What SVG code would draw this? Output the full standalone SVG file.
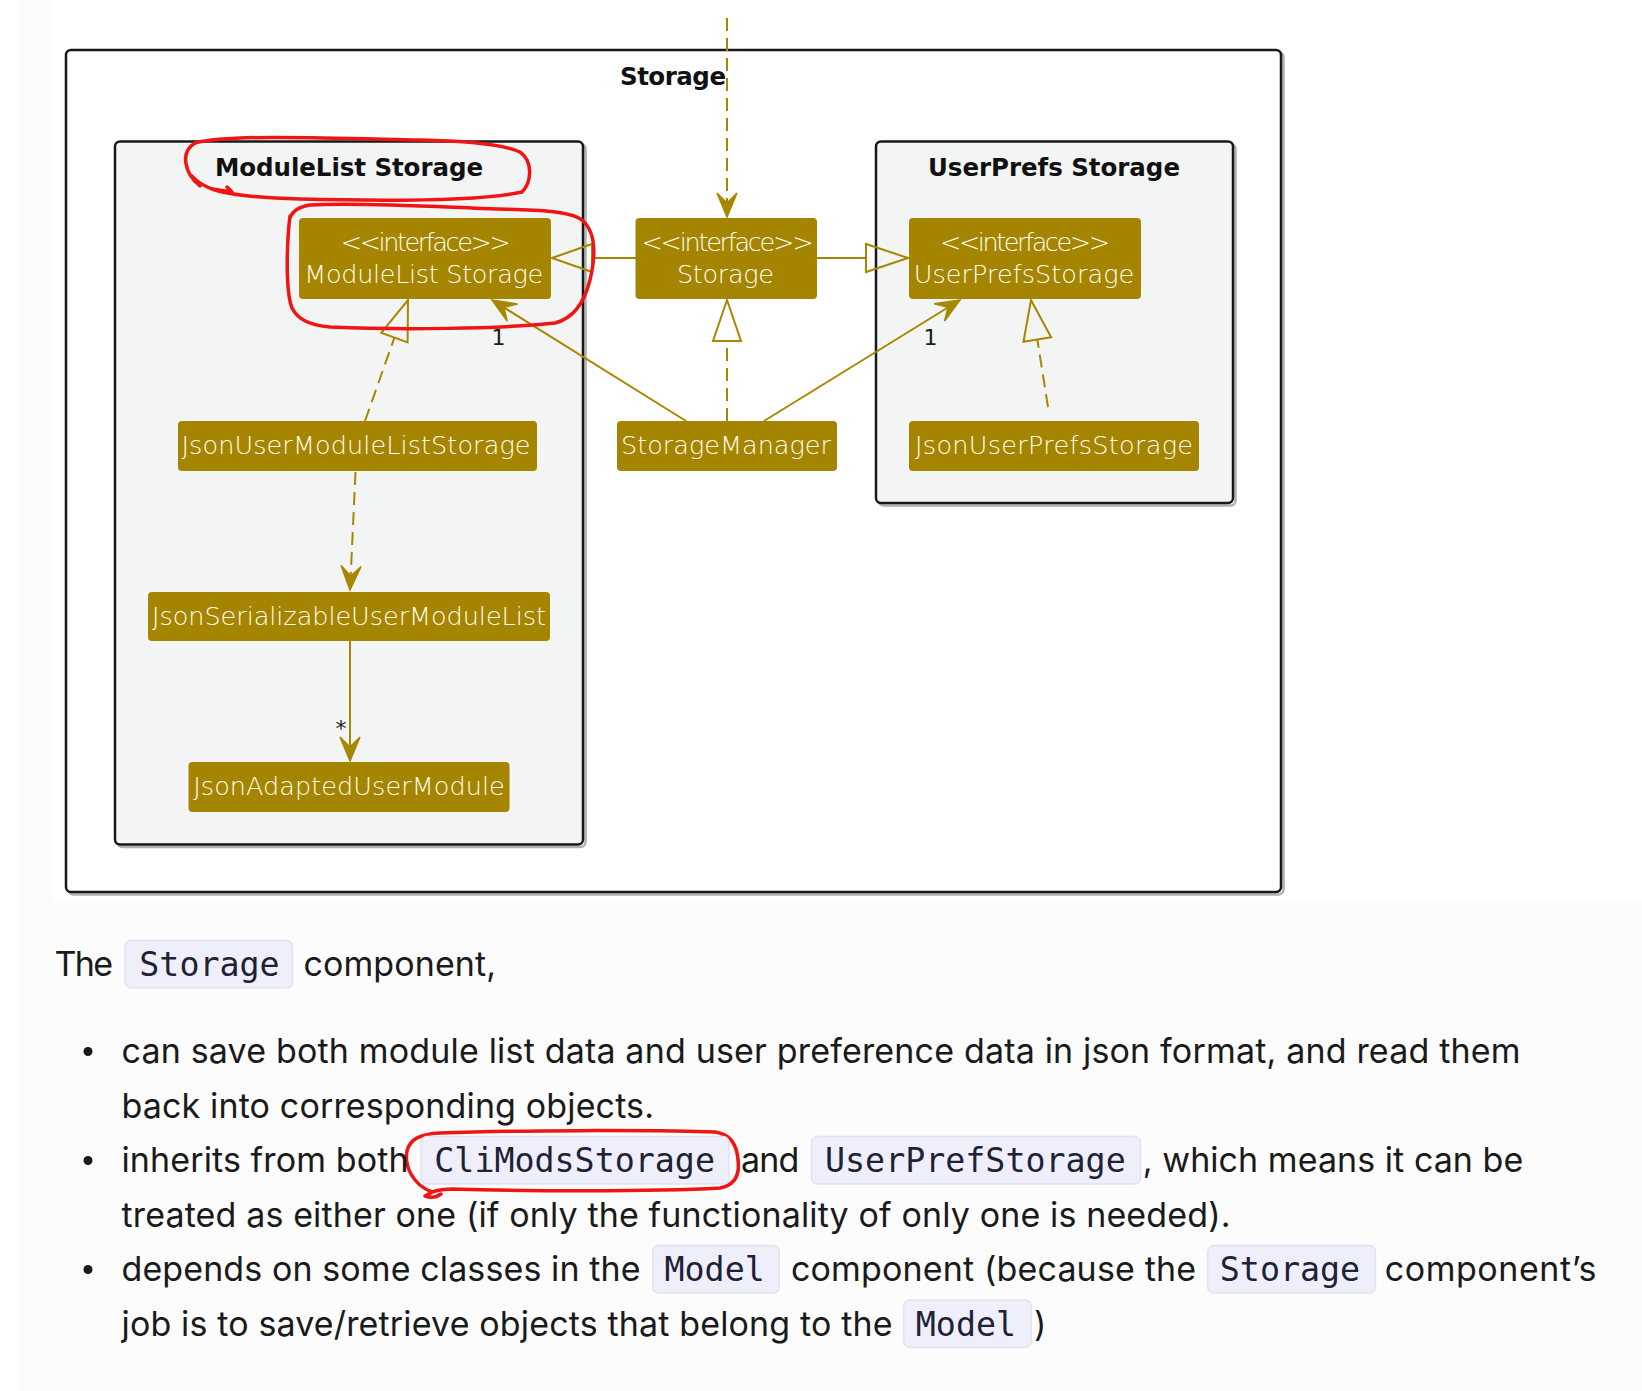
<svg xmlns="http://www.w3.org/2000/svg" width="1642" height="1391" viewBox="0 0 1642 1391">
<style>
.pkg{fill:#f3f5f4;stroke:#181818;stroke-width:2.5}
.pkgsh{fill:none;stroke:#b0b0b0;stroke-width:2.5}
.node{fill:#a58400}
.nt{font-family:"DejaVu Sans",sans-serif;font-weight:200;font-size:25.5px;fill:#fffdf0;text-anchor:middle}
.ptitle{font-family:"DejaVu Sans",sans-serif;font-weight:bold;font-size:24.5px;fill:#111;text-anchor:middle}
.ln{fill:none;stroke:#a88700;stroke-width:2}
.dash{stroke-dasharray:13 7}
.head{fill:#a88700;stroke:#a88700;stroke-width:1.5;stroke-linejoin:miter}
.tri{fill:none;stroke:#a88700;stroke-width:2}
.lbl{font-family:"DejaVu Sans",sans-serif;font-size:22px;fill:#1a1a1a;text-anchor:middle}
.red{fill:none;stroke:#f01414;stroke-width:3.5;stroke-linecap:round;stroke-linejoin:round}
.body{font-family:Inter,"Noto Sans",sans-serif;font-size:34px;fill:#1a1a1a}
.code{font-family:"DejaVu Sans Mono",monospace;font-size:33.3px;fill:#1e2235}
.codebg{fill:#efeffc;stroke:#e3e3ee;stroke-width:1.5}
</style>
<rect x="0" y="0" width="1642" height="1391" fill="#ffffff"/>
<rect x="18" y="0" width="1624" height="1391" fill="#fcfcfc"/>
<rect x="52" y="0" width="1590" height="902" fill="#ffffff"/>

<g id="pkg-storage">
<rect class="pkgsh" x="68.5" y="52.5" width="1215" height="842" rx="5"/>
<rect x="66" y="50" width="1215" height="842" rx="5" fill="#ffffff" stroke="#181818" stroke-width="2.5"/>
<text class="ptitle" x="673" y="85" textLength="106">Storage</text>
</g>
<g id="pkg-modulelist">
<rect class="pkgsh" x="117.5" y="144" width="468" height="703" rx="5"/>
<rect class="pkg" x="115" y="141.5" width="468" height="703" rx="5"/>
<text class="ptitle" x="349" y="176" textLength="268">ModuleList Storage</text>
</g>
<g id="pkg-userprefs">
<rect class="pkgsh" x="878.5" y="144" width="357" height="361.5" rx="5"/>
<rect class="pkg" x="876" y="141.5" width="357" height="361.5" rx="5"/>
<text class="ptitle" x="1054" y="176" textLength="252">UserPrefs Storage</text>
</g>

<g id="connectors">
<line class="ln dash" x1="727" y1="18" x2="727" y2="210"/>
<polygon class="head" points="727,217 717,193 727,203 737,193"/>
<line class="ln" x1="636" y1="258" x2="592" y2="258"/>
<polygon class="tri" points="552,258 592,244 592,272"/>
<line class="ln" x1="817" y1="258" x2="866" y2="258"/>
<polygon class="tri" points="908,258 866,244 866,272"/>
<line class="ln dash" x1="365" y1="421" x2="394.4" y2="337.6"/>
<polygon class="tri" points="408,300 407.6,342.4 381.2,332.8"/>
<line class="ln dash" x1="727" y1="421" x2="727" y2="341"/>
<polygon class="tri" points="727,300 713,341 741,341"/>
<line class="ln" x1="686" y1="421" x2="496" y2="302.5"/>
<polygon class="head" points="492,300 517.6,304.1 503.9,307.3 507.2,321.1"/>
<text class="lbl" x="498.5" y="345">1</text>
<line class="ln" x1="764" y1="421" x2="956" y2="302.5"/>
<polygon class="head" points="960,300 944.6,321 948,307.2 934.2,303.8"/>
<text class="lbl" x="930.5" y="345">1</text>
<line class="ln dash" x1="1048" y1="407" x2="1037.3" y2="339.5"/>
<polygon class="tri" points="1031,300 1051.1,337.3 1023.5,341.7"/>
<line class="ln dash" x1="355.5" y1="472" x2="350.5" y2="580"/>
<polygon class="head" points="350,590 361.1,566.5 350.7,576 341.1,565.5"/>
<line class="ln" x1="350" y1="641" x2="350" y2="752"/>
<polygon class="head" points="350,761 340,737 350,747 360,737"/>
<text class="lbl" x="341" y="736">*</text>
</g>

<g id="n-mls">
<rect class="node" x="299" y="218" width="252" height="81" rx="4"/>
<text class="nt" x="425.7" y="251" textLength="170">&lt;&lt;interface&gt;&gt;</text>
<text class="nt" x="423.8" y="283" textLength="239">ModuleList Storage</text>
</g>
<g id="n-storage">
<rect class="node" x="635.5" y="218" width="181.5" height="81" rx="4"/>
<text class="nt" x="727.5" y="251" textLength="172">&lt;&lt;interface&gt;&gt;</text>
<text class="nt" x="725.4" y="283" textLength="97">Storage</text>
</g>
<g id="n-ups">
<rect class="node" x="909" y="218" width="232" height="81" rx="4"/>
<text class="nt" x="1025" y="251" textLength="170">&lt;&lt;interface&gt;&gt;</text>
<text class="nt" x="1024" y="283" textLength="220.5">UserPrefsStorage</text>
</g>
<g id="n-jumls">
<rect class="node" x="178" y="421" width="359" height="50" rx="4"/>
<text class="nt" x="356" y="454" textLength="349">JsonUserModuleListStorage</text>
</g>
<g id="n-sm">
<rect class="node" x="617" y="421" width="220" height="50" rx="4"/>
<text class="nt" x="726" y="454" textLength="210">StorageManager</text>
</g>
<g id="n-jups">
<rect class="node" x="909" y="421" width="290" height="50" rx="4"/>
<text class="nt" x="1054" y="454" textLength="278">JsonUserPrefsStorage</text>
</g>
<g id="n-jsuml">
<rect class="node" x="148" y="592" width="402" height="49" rx="4"/>
<text class="nt" x="349" y="625" textLength="394">JsonSerializableUserModuleList</text>
</g>
<g id="n-jaum">
<rect class="node" x="188.5" y="762" width="321" height="50" rx="4"/>
<text class="nt" x="349" y="795" textLength="311.5">JsonAdaptedUserModule</text>
</g>

<g id="annotations">
<path class="red" d="M200,186 C184,173 180,152 195,143 C230,134 330,138 420,140 C470,141 505,145 520,152 C533,161 532,182 522,192 C480,201 380,201 300,199 C262,198 232,196 212,189 C202,185 196,181 192,176"/>
<path class="red" d="M212,189 L232,192 L227,187"/>
<path class="red" d="M290,216 C287,240 285,290 292,308 C298,320 310,325 330,327 C400,330 500,329 555,323 C575,318 585,300 590,280 C596,255 596,232 582,220 C570,211 540,210 500,209 C440,207 360,202 310,205 C298,207 292,212 290,218"/>
<path class="red" d="M432,1192 C413,1185 404,1166 407,1151 C410,1139 420,1134 440,1133 C520,1130 640,1130 715,1132 C730,1134 737,1145 738,1160 C740,1175 735,1185 720,1188 C650,1192 520,1191 452,1189 C440,1189 430,1192 425,1196 C431,1198 437,1197 441,1194"/>
</g>

<g id="text">
<text class="body" x="54.5" y="976" textLength="58.5">The</text>
<rect class="codebg" x="125" y="940.5" width="167.5" height="47.5" rx="6"/>
<text class="code" x="139.3" y="976">Storage</text>
<text class="body" x="303.5" y="976" textLength="192.5">component,</text>

<circle cx="88" cy="1051.5" r="4.5" fill="#1a1a1a"/>
<text class="body" x="121.5" y="1063" textLength="1399">can save both module list data and user preference data in json format, and read them</text>
<text class="body" x="121.5" y="1117.5" textLength="532.5">back into corresponding objects.</text>

<circle cx="88" cy="1160.5" r="4.5" fill="#1a1a1a"/>
<text class="body" x="121.5" y="1172" textLength="287">inherits from both</text>
<rect class="codebg" x="421" y="1136.5" width="308" height="47.5" rx="6"/>
<text class="code" x="434.3" y="1172">CliModsStorage</text>
<text class="body" x="741" y="1172" textLength="58.3">and</text>
<rect class="codebg" x="811.5" y="1136.5" width="329" height="47.5" rx="6"/>
<text class="code" x="825" y="1172">UserPrefStorage</text>
<text class="body" x="1142.8" y="1172" textLength="380.5">, which means it can be</text>
<text class="body" x="121.5" y="1226.5" textLength="1109">treated as either one (if only the functionality of only one is needed).</text>

<circle cx="88" cy="1269.5" r="4.5" fill="#1a1a1a"/>
<text class="body" x="121.5" y="1281" textLength="519">depends on some classes in the</text>
<rect class="codebg" x="652.7" y="1245.5" width="126.6" height="47.5" rx="6"/>
<text class="code" x="664.5" y="1281">Model</text>
<text class="body" x="791" y="1281" textLength="405">component (because the</text>
<rect class="codebg" x="1207.7" y="1245.5" width="167.7" height="47.5" rx="6"/>
<text class="code" x="1219.8" y="1281">Storage</text>
<text class="body" x="1384.7" y="1281" textLength="211.7">component’s</text>
<text class="body" x="121.5" y="1335.5" textLength="771">job is to save/retrieve objects that belong to the</text>
<rect class="codebg" x="903.7" y="1300" width="127.5" height="47.5" rx="6"/>
<text class="code" x="915.8" y="1335.5">Model</text>
<text class="body" x="1034" y="1335.5">)</text>
</g>
</svg>
